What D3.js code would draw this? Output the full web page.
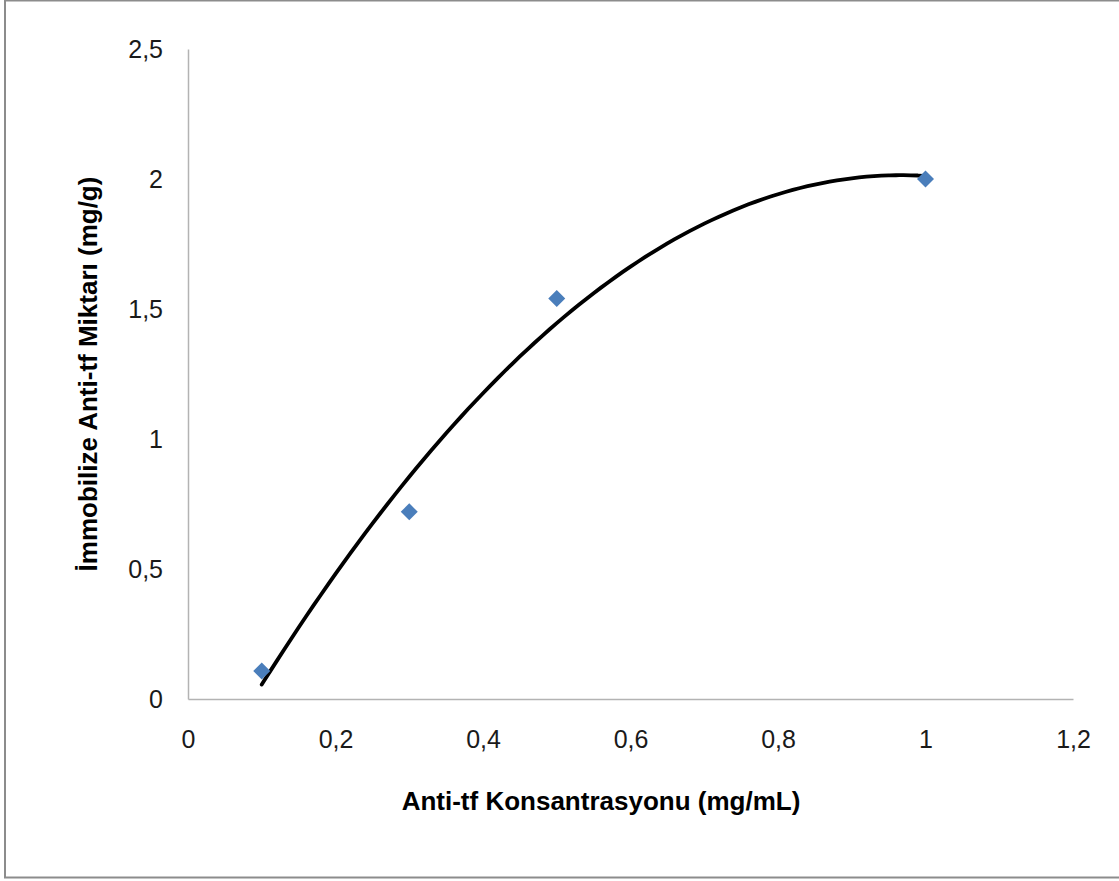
<!DOCTYPE html>
<html>
<head>
<meta charset="utf-8">
<script src="https://cdn.jsdelivr.net/npm/d3@7"></script>
<style>
  body { margin: 0; background: #fff; }
  text { font-family: "Liberation Sans", Arial, sans-serif; }
</style>
</head>
<body>
<div id="chart"></div>
<script>
// data
var concentrations = [0.1, 0.3, 0.5, 1];
var amounts = [0.108, 0.72, 1.54, 2.0];
var xTicks = [0, 0.2, 0.4, 0.6, 0.8, 1, 1.2];
var yTicks = [0, 0.5, 1, 1.5, 2, 2.5];

var width = 1119, height = 881;
var margin = {left: 188, top: 49, right: 46, bottom: 182};
var innerWidth = width - margin.left - margin.right,
    innerHeight = height - margin.top - margin.bottom;

var svg = d3.select("#chart").append("svg")
    .attr("width", width)
    .attr("height", height);

// outer chart border
svg.append("rect")
    .attr("x", 5).attr("y", 0.5)
    .attr("width", width + 10).attr("height", 877)
    .attr("fill", "none")
    .attr("stroke", "#8c8c8c")
    .attr("stroke-width", 2);

var x = d3.scaleLinear().domain([0, 1.2]).range([0, innerWidth]);
var y = d3.scaleLinear().domain([0, 2.5]).range([innerHeight, 0]);

var g = svg.append("g")
    .attr("transform", "translate(" + margin.left + "," + margin.top + ")");

var fmt = function(d) { return String(d).replace(".", ","); };

// axes (no tick marks, just the lines and labels)
var xAxis = g.append("g")
    .attr("transform", "translate(0," + innerHeight + ")")
    .call(d3.axisBottom(x).tickValues(xTicks).tickFormat(fmt).tickSize(0).tickPadding(31));
var yAxis = g.append("g")
    .call(d3.axisLeft(y).tickValues(yTicks).tickFormat(fmt).tickSize(0).tickPadding(25));

[xAxis, yAxis].forEach(function(a) {
  a.attr("font-size", null).attr("font-family", null);
  a.select(".domain").attr("stroke", "#b3b3b3").attr("stroke-width", 1.5);
  a.selectAll("text")
      .attr("font-size", 25)
      .attr("fill", "#1a1a1a");
});
yAxis.selectAll("text").attr("dy", "0.35em");

// second order polynomial trendline (least squares on the points)
function polyFit2(xs, ys) {
  var n = xs.length, s = [0, 0, 0, 0, 0], t = [0, 0, 0];
  for (var i = 0; i < n; i++) {
    for (var k = 0; k < 5; k++) s[k] += Math.pow(xs[i], k);
    for (var k2 = 0; k2 < 3; k2++) t[k2] += ys[i] * Math.pow(xs[i], k2);
  }
  var m = [[s[0], s[1], s[2], t[0]], [s[1], s[2], s[3], t[1]], [s[2], s[3], s[4], t[2]]];
  for (var c = 0; c < 3; c++) {
    for (var r = c + 1; r < 3; r++) {
      var f = m[r][c] / m[c][c];
      for (var j = c; j < 4; j++) m[r][j] -= f * m[c][j];
    }
  }
  var coef = [0, 0, 0];
  for (var r2 = 2; r2 >= 0; r2--) {
    var v = m[r2][3];
    for (var j2 = r2 + 1; j2 < 3; j2++) v -= m[r2][j2] * coef[j2];
    coef[r2] = v / m[r2][r2];
  }
  return coef;
}
var coef = polyFit2(concentrations, amounts);
var trendX = d3.range(0.1, 1.0001, 0.01);
var line = d3.line()
    .x(function(d) { return x(d); })
    .y(function(d) { return y(coef[0] + coef[1] * d + coef[2] * d * d); })
    .curve(d3.curveBasis);

g.append("path")
    .datum(trendX)
    .attr("d", line)
    .attr("fill", "none")
    .attr("stroke", "#000")
    .attr("stroke-width", 3.8)
    .attr("stroke-linecap", "round");

// diamond markers
g.selectAll(".pt")
    .data(concentrations)
  .enter().append("path")
    .attr("class", "pt")
    .attr("transform", function(d, i) { return "translate(" + x(d) + "," + y(amounts[i]) + ")"; })
    .attr("d", "M0,-8.5L8.5,0L0,8.5L-8.5,0Z")
    .attr("fill", "#4a7ebb");

// axis titles
svg.append("text")
    .attr("x", 601).attr("y", 810)
    .attr("text-anchor", "middle")
    .attr("font-size", 26)
    .attr("font-weight", "bold")
    .text("Anti-tf Konsantrasyonu (mg/mL)");

svg.append("text")
    .attr("transform", "translate(97,374) rotate(-90)")
    .attr("text-anchor", "middle")
    .attr("font-size", 26)
    .attr("font-weight", "bold")
    .text("İmmobilize Anti-tf Miktarı  (mg/g)");
</script>
</body>
</html>
